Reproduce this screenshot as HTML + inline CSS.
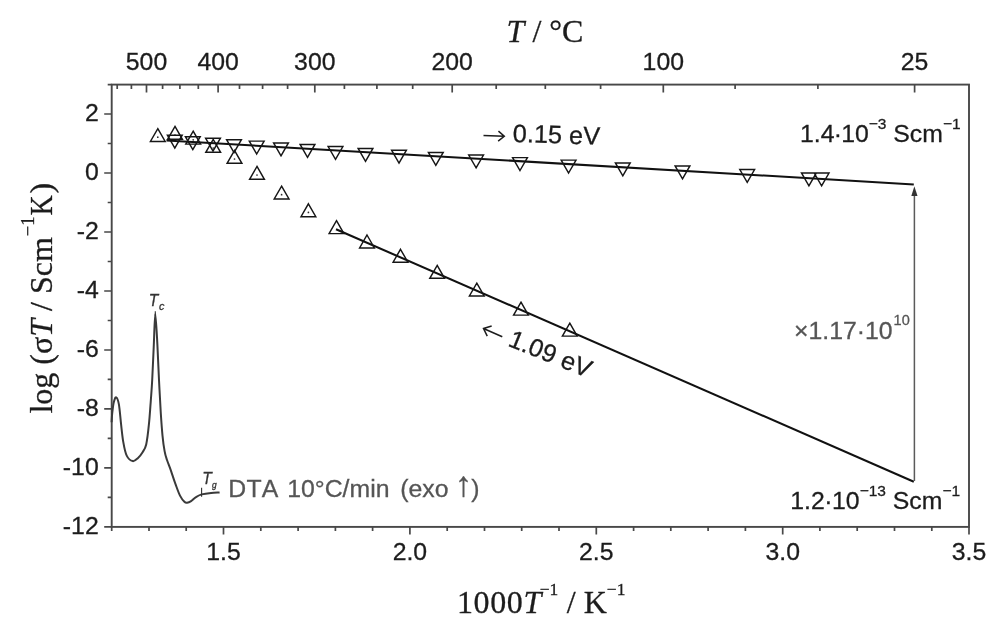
<!DOCTYPE html>
<html lang="en"><head><meta charset="utf-8"><title>Arrhenius plot</title>
<style>html,body{margin:0;padding:0;background:#fff}body{width:1006px;height:630px;overflow:hidden}svg{display:block;filter:blur(0.5px)}text{font-kerning:none;stroke-width:0.3px}</style>
</head><body>
<svg width="1006" height="630" viewBox="0 0 1006 630">
<rect width="1006" height="630" fill="#fff"/>
<g stroke="#484848" stroke-width="1.9" fill="none" stroke-linecap="square">
<rect x="111.7" y="84.6" width="857.3" height="442.3"/>
</g>
<path d="M111.7 526.9v4M149.0 526.9v4M186.2 526.9v4M223.5 526.9v7.5M260.8 526.9v4M298.1 526.9v4M335.4 526.9v4M372.6 526.9v4M409.9 526.9v7.5M447.2 526.9v4M484.5 526.9v4M521.7 526.9v4M559.0 526.9v4M596.3 526.9v7.5M633.6 526.9v4M670.8 526.9v4M708.1 526.9v4M745.4 526.9v4M782.7 526.9v7.5M819.9 526.9v4M857.2 526.9v4M894.5 526.9v4M931.8 526.9v4M969.0 526.9v7.5M111.7 526.9h-7.5M111.7 497.4h-4M111.7 467.9h-7.5M111.7 438.4h-4M111.7 408.9h-7.5M111.7 379.4h-4M111.7 350.0h-7.5M111.7 320.5h-4M111.7 291.0h-7.5M111.7 261.5h-4M111.7 232.0h-7.5M111.7 202.5h-4M111.7 173.0h-7.5M111.7 143.5h-4M111.7 114.0h-7.5M111.7 84.6h-4M914.6 84.6v8M817.9 84.6v4.5M735.1 84.6v4.5M663.3 84.6v8M600.6 84.6v4.5M545.3 84.6v4.5M496.2 84.6v4.5M452.2 84.6v8M412.7 84.6v4.5M376.9 84.6v4.5M344.4 84.6v4.5M314.8 84.6v8M287.6 84.6v4.5M262.6 84.6v4.5M239.5 84.6v4.5M218.1 84.6v8M198.3 84.6v4.5M179.9 84.6v4.5M162.6 84.6v4.5M146.5 84.6v8M131.4 84.6v4.5M117.2 84.6v4.5" stroke="#484848" stroke-width="1.7" fill="none"/>
<g font-family='"Liberation Sans", Arial, Helvetica, sans-serif' font-size="24.8" fill="#1c1c1c" stroke="#1c1c1c">
<text x="223.5" y="560" text-anchor="middle">1.5</text>
<text x="409.9" y="560" text-anchor="middle">2.0</text>
<text x="596.3" y="560" text-anchor="middle">2.5</text>
<text x="782.7" y="560" text-anchor="middle">3.0</text>
<text x="969.0" y="560" text-anchor="middle">3.5</text>
<text x="98.7" y="533.6" text-anchor="end">-12</text>
<text x="98.7" y="474.6" text-anchor="end">-10</text>
<text x="98.7" y="415.6" text-anchor="end">-8</text>
<text x="98.7" y="356.7" text-anchor="end">-6</text>
<text x="98.7" y="297.7" text-anchor="end">-4</text>
<text x="98.7" y="238.7" text-anchor="end">-2</text>
<text x="98.7" y="179.7" text-anchor="end">0</text>
<text x="98.7" y="120.7" text-anchor="end">2</text>
<text x="146.5" y="70.3" text-anchor="middle">500</text>
<text x="218.1" y="70.3" text-anchor="middle">400</text>
<text x="314.8" y="70.3" text-anchor="middle">300</text>
<text x="452.2" y="70.3" text-anchor="middle">200</text>
<text x="663.3" y="70.3" text-anchor="middle">100</text>
<text x="914.6" y="70.3" text-anchor="middle">25</text>
</g>
<g font-family='"Liberation Serif", "Times New Roman", Times, serif' font-size="32" fill="#1c1c1c" stroke="#1c1c1c">
<text x="506.6" y="41.7"><tspan font-style="italic">T</tspan> / °C</text>
<text x="457" y="612.6"><tspan letter-spacing="0.6">1000</tspan><tspan font-style="italic">T</tspan><tspan font-size="17.5" dx="-1.5" dy="-17.3">−1</tspan><tspan dy="17.3" dx="0.5"> / K</tspan><tspan font-size="17.5" dy="-17.3">−1</tspan></text>
<g transform="translate(51.7 413.6) rotate(-90)">
<text x="0" y="0">log (σ<tspan font-style="italic">T</tspan> / Scm</text>
<text x="177.3" y="-17.6" font-size="18.5">−1</text>
<text transform="translate(198.1 0) scale(0.875 1)">K</text>
<text x="220.1" y="0">)</text>
</g>
</g>
<path d="M111.6 422.2C111.7 420.7 111.8 416.6 112.2 413.3C112.6 410.0 113.1 404.9 113.8 402.2C114.5 399.5 115.3 396.9 116.2 397.3C117.1 397.7 118.1 399.9 118.9 404.4C119.7 408.9 120.4 418.1 121.1 424.4C121.8 430.7 122.4 437.0 123.3 442.2C124.2 447.4 125.1 452.5 126.7 455.6C128.3 458.8 130.8 460.7 132.7 461.1C134.5 461.5 136.2 459.7 137.8 458.2C139.5 456.7 141.2 454.5 142.6 452.2C144.0 449.9 145.1 449.0 146.2 444.4C147.2 439.8 148.2 431.4 148.9 424.4C149.7 417.4 150.1 409.6 150.7 402.2C151.2 394.8 151.7 389.5 152.2 380.0C152.7 370.5 153.3 356.0 153.8 345.0C154.3 334.0 154.7 313.9 155.3 313.9C155.9 313.9 156.8 334.0 157.4 345.0C158.0 356.0 158.4 368.6 159.0 380.0C159.6 391.4 160.2 404.0 160.8 413.3C161.4 422.6 161.9 429.3 162.5 435.6C163.1 441.9 163.8 447.0 164.6 451.1C165.3 455.2 165.9 456.7 167.0 460.0C168.1 463.3 169.7 467.0 171.1 471.1C172.5 475.2 174.1 480.3 175.6 484.4C177.1 488.5 178.5 492.7 180.0 495.6C181.5 498.5 183.2 500.6 184.4 501.8C185.6 503.0 186.0 502.8 187.1 502.7C188.2 502.6 189.7 502.0 191.1 501.1C192.5 500.2 193.8 498.4 195.6 497.3C197.3 496.2 199.0 495.1 201.6 494.4C204.2 493.7 208.1 493.2 211.1 492.9C214.1 492.6 218.2 492.5 219.6 492.4" stroke="#3a3a3a" stroke-width="2.0" fill="none" stroke-linejoin="round"/>
<path d="M155.3 311.3V316M201.6 487.8V496.7" stroke="#333" stroke-width="1.1" fill="none"/>
<g font-family='"Liberation Sans", Arial, Helvetica, sans-serif' font-style="italic" fill="#333" stroke="#333">
<text x="148.8" y="305.6" font-size="15.6">T<tspan x="159.1" font-size="10.8" dy="4.8">c</tspan></text>
<text x="202.3" y="484.1" font-size="15.6">T<tspan x="211.9" font-size="8.3" dy="3.7">g</tspan></text>
</g>
<text x="228.2" y="497" font-family='"Liberation Sans", Arial, Helvetica, sans-serif' font-size="24.8" fill="#555" stroke="#555"><tspan letter-spacing="0.3">DTA</tspan> <tspan dx="1.6">10°C/min</tspan> <tspan dx="3.9">(exo</tspan> <tspan font-size="35" dx="-0.6" dy="-1">↑</tspan><tspan dy="1" dx="-1">)</tspan></text>
<path d="M166.5 140.4L913.8 184.4" stroke="#111" stroke-width="2.05" fill="none"/>
<path d="M336 229.2L913.8 481.7" stroke="#111" stroke-width="2.05" fill="none"/>
<path d="M914.4 481V195" stroke="#5a5a5a" stroke-width="1.5" fill="none"/>
<path d="M914.4 186.3l3.1 9.6h-6.2z" fill="#333"/>
<path d="M157.8 128.6L165.2 141.5H150.4ZM175.0 126.4L182.4 139.3H167.6ZM193.2 131.2L200.6 144.1H185.8ZM213.2 139.4L220.6 152.3H205.8ZM234.5 150.4L241.9 163.3H227.1ZM257.0 166.4L264.4 179.3H249.6ZM281.6 186.1L289.0 199.0H274.2ZM308.4 203.8L315.8 216.7H301.0ZM336.5 220.7L343.9 233.6H329.1ZM367.0 235.0L374.4 247.9H359.6ZM400.5 249.3L407.9 262.2H393.1ZM437.2 265.4L444.6 278.3H429.8ZM476.8 283.1L484.2 296.0H469.4ZM521.0 302.2L528.4 315.1H513.6ZM569.8 323.2L577.2 336.1H562.4Z" stroke="#161616" stroke-width="1.45" fill="none" stroke-linejoin="miter"/>
<g fill="#2a2a2a"><circle cx="157.8" cy="137.2" r="0.85"/><circle cx="175.0" cy="135.0" r="0.85"/><circle cx="193.2" cy="139.8" r="0.85"/><circle cx="213.2" cy="148.0" r="0.85"/><circle cx="234.5" cy="159.0" r="0.85"/><circle cx="257.0" cy="175.0" r="0.85"/><circle cx="281.6" cy="194.7" r="0.85"/><circle cx="308.4" cy="212.4" r="0.85"/></g>
<path d="M174.8 148.1L182.2 135.2H167.4ZM192.8 149.6L200.2 136.7H185.4ZM213.0 151.1L220.4 138.2H205.6ZM234.0 152.6L241.4 139.7H226.6ZM256.7 154.0L264.1 141.1H249.3ZM281.0 155.8L288.4 142.9H273.6ZM307.5 157.3L314.9 144.4H300.1ZM335.5 159.4L342.9 146.5H328.1ZM365.5 161.3L372.9 148.4H358.1ZM399.0 163.1L406.4 150.2H391.6ZM435.8 165.3L443.2 152.4H428.4ZM476.1 167.9L483.5 155.0H468.7ZM520.0 170.5L527.4 157.6H512.6ZM568.6 173.0L576.0 160.1H561.2ZM622.8 175.8L630.2 162.9H615.4ZM682.5 178.8L689.9 165.9H675.1ZM747.2 182.4L754.6 169.5H739.8ZM808.9 185.8L816.3 172.9H801.5ZM821.6 185.9L829.0 173.0H814.2Z" stroke="#161616" stroke-width="1.45" fill="none" stroke-linejoin="miter"/>
<g font-family='"Liberation Sans", Arial, Helvetica, sans-serif' font-size="24.8" fill="#1c1c1c" stroke="#1c1c1c">
<g transform="translate(483.5 135.6) rotate(1.8)"><path d="M0 0H20.8M14.8 -5l6 5l-6 5" stroke="#1c1c1c" stroke-width="1.5" fill="none"/><text x="29.3" y="5.4" font-size="25.3">0.15 eV</text></g>
<text x="800" y="142.2">1.4<tspan dx="-0.8">·</tspan><tspan dx="-0.8">10</tspan><tspan font-size="15.5" dy="-13.3">−3</tspan><tspan dy="13.3"> Scm</tspan><tspan font-size="15.5" dy="-13.3">−1</tspan></text>
<text x="790.3" y="508.8">1.2<tspan dx="-0.5">·</tspan><tspan dx="-0.5">10</tspan><tspan font-size="15.5" dy="-13.3">−13</tspan><tspan dy="13.3"> Scm</tspan><tspan font-size="15.5" dy="-13.3">−1</tspan></text>
<text x="794" y="338.6" fill="#555" stroke="#555">×1.17·10<tspan font-size="14.5" dx="1" dy="-13.4">10</tspan></text>
<g transform="translate(483.5 328.5) rotate(23.6)"><path d="M0 0H20.5M6.5 -5.5L0 0l6.5 5.5" stroke="#1c1c1c" stroke-width="1.5" fill="none"/></g><text transform="translate(507 345.4) rotate(22)" font-size="25.2">1.09 eV</text>
</g>
</svg>
</body></html>
